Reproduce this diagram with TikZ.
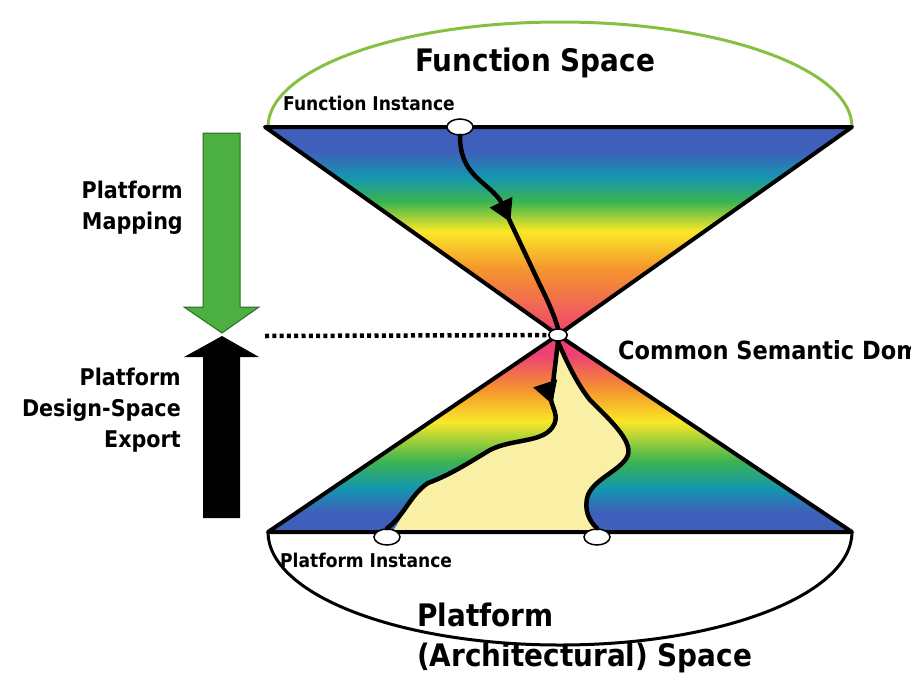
\documentclass[tikz,border=0pt]{standalone}
\usepackage{fontspec}
\setmainfont{DejaVu Sans}[FakeStretch=0.9]
\usepackage{xcolor}
\usepackage{tikz}
\usetikzlibrary{arrows.meta, decorations.markings, shapes.geometric}

\definecolor{coneblue}{RGB}{62,96,186}
\definecolor{coneteal}{RGB}{20,150,175}
\definecolor{conegreen}{RGB}{60,180,80}
\definecolor{coneyellow}{RGB}{250,232,40}
\definecolor{coneorange}{RGB}{245,150,45}
\definecolor{conepink}{RGB}{238,65,115}
\definecolor{paleyellow}{RGB}{250,240,165}
\definecolor{spacegreen}{RGB}{135,192,65}
\definecolor{mapgreen}{RGB}{75,175,65}

% colour bands of the two cones (apex pink, base blue)
\pgfdeclareverticalshading{topcone}{100bp}{color(0bp)=(conepink); color(25bp)=(conepink);
  color(41bp)=(coneorange); color(50bp)=(coneyellow); color(57bp)=(conegreen);
  color(63bp)=(coneteal); color(69bp)=(coneblue); color(100bp)=(coneblue)}
\pgfdeclareverticalshading{bottomcone}{100bp}{color(0bp)=(coneblue); color(30bp)=(coneblue);
  color(36bp)=(coneteal); color(43bp)=(conegreen); color(53bp)=(coneyellow);
  color(61bp)=(coneorange); color(70bp)=(conepink); color(100bp)=(conepink)}

\begin{document}
\begin{tikzpicture}[
    x=1pt, y=-1pt,
    every node/.style={font=\bfseries, inner sep=0pt},
    title/.style={font=\bfseries\fontsize{31}{40}\selectfont},
    smalllabel/.style={font=\bfseries\fontsize{19}{24}\selectfont},
    sidelabel/.style={font=\bfseries\fontsize{23}{31}\selectfont, align=right, anchor=east},
    marker/.style={draw, line width=1.5pt, fill=white, ellipse, minimum width=26pt, minimum height=16pt},
    cone/.style={draw=black, line width=4pt, line join=round},
    route/.style={line width=4.5pt, line cap=round},
    midarrow/.style={postaction={decorate}, decoration={markings,
        mark=at position #1 with {\arrow{Triangle[length=22pt,width=24pt]}}}}
]
\useasboundingbox (0,0) rectangle (911,678);

% spaces
\draw[spacegreen, line width=3pt] (268,127) arc[start angle=180, end angle=360, x radius=292, y radius=105];
\draw[black, line width=3pt] (268,532) arc[start angle=180, end angle=0, x radius=292, y radius=113];

% cones
\shade[shading=topcone] (265,127) -- (852,127) -- (558,335) -- cycle;
\shade[shading=bottomcone] (558,335) -- (852,532) -- (268,532) -- cycle;
\fill[paleyellow] (558,342) -- (551,400) .. controls (553,410) and (562,420) .. (548,432)
    .. controls (535,442) and (510,440) .. (490,450) .. controls (470,462) and (450,475) .. (428,483)
    .. controls (410,495) and (405,515) .. (392,532) -- (597,532)
    .. controls (590,522) and (583,510) .. (588,495) .. controls (595,478) and (622,470) .. (628,455)
    .. controls (632,440) and (610,420) .. (590,400) .. controls (578,385) and (568,365) .. (560,342) -- cycle;
\draw[cone] (265,127) -- (852,127) -- (558,335) -- cycle;
\draw[cone] (558,335) -- (852,532) -- (268,532) -- cycle;

% markers
\node[marker] (fi) at (460,127) {};
\node[marker, minimum width=18pt, minimum height=12pt] (csd) at (558,335) {};
\node[marker] (pi1) at (387,537) {};
\node[marker] (pi2) at (597,537) {};

% routes
\draw[route, midarrow=0.47] (fi.south) .. controls (460,175) and (485,180) .. (500,200) -- (540,285)
    .. controls (550,305) and (555,318) .. (csd.north);
\draw[route, midarrow=0.22] (csd.south) -- (551,400) .. controls (553,410) and (562,420) .. (548,432)
    .. controls (535,442) and (510,440) .. (490,450) .. controls (470,462) and (450,475) .. (428,483)
    .. controls (410,495) and (405,515) .. (pi1.north);
\draw[route] (csd.south) .. controls (568,365) and (578,385) .. (590,400) .. controls (610,420) and (632,440) .. (628,455)
    .. controls (622,470) and (595,478) .. (588,495) .. controls (583,510) and (590,522) .. (pi2.north);
\node[marker, minimum width=18pt, minimum height=12pt] at (csd) {};

\coordinate (dotstart) at (265,336);
\draw[line width=4.5pt, dash pattern=on 4pt off 3.3pt] (dotstart) -- (csd.west);

% side arrows
\filldraw[fill=mapgreen, draw=mapgreen!60!black, line width=1pt] (203,133) -- (240,133) -- (240,307) -- (259,307)
    -- (222,333) -- (184,307) -- (203,307) -- cycle;
\fill[black] (222,336) -- (259,357) -- (240,357) -- (240,518) -- (203,518) -- (203,357) -- (184,357) -- cycle;

% labels
\node[title] (fspace) at (535,63) {Function Space};
\node[smalllabel, anchor=west] (finst) at (283,103) {Function Instance};
\node[font=\bfseries\fontsize{25}{30}\selectfont, anchor=west] (csdlabel) at (618,350) {Common Semantic Domain};
\node[smalllabel, anchor=west] (pinst) at (280,560) {Platform Instance};
\node[title, align=left, anchor=north west] (pspace) at (417,603) {Platform\\(Architectural) Space};
\node[sidelabel] (maplabel) at (183,208) {Platform\\Mapping};
\node[sidelabel] (exportlabel) at (181,410) {Platform\\Design-Space\\Export};
\end{tikzpicture}
\end{document}
